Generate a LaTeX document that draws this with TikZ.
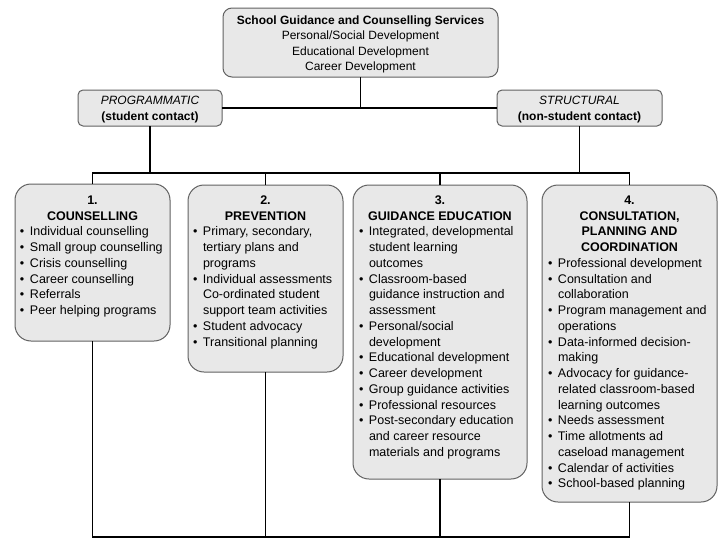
\documentclass[tikz,border=0pt]{standalone}
\usepackage{fontspec}
\setmainfont{Liberation Sans}
\newcommand\myitem{\par\hangindent=10pt\hangafter=1\noindent\makebox[10pt][l]{\textbullet}}
\newcommand\boxtext[3]{\begin{minipage}[t]{#1}\fontsize{#2}{15.75pt}\selectfont\parindent=0pt\parskip=0pt #3\end{minipage}}
\begin{document}
\begin{tikzpicture}[x=1pt,y=-1pt,
  gbox/.style={draw=black!62, line width=1pt, fill=black!9, inner sep=0pt, outer sep=0pt},
  colbox/.style={gbox, rounded corners=16pt, anchor=north west},
  txt/.style={anchor=base west, inner sep=0pt, outer sep=0pt},
  conn/.style={line width=1.8pt, black}]
\useasboundingbox (0,0) rectangle (728,546);
% top
\node[gbox, rounded corners=9pt, anchor=north west, minimum width=275pt, minimum height=69pt] (top) at (223,8) {};
\node[txt] (toptxt) at (223,24.3) {\begin{minipage}[t]{275pt}\fontsize{12pt}{15.5pt}\selectfont\centering
{\bfseries School Guidance and Counselling Services}\\
Personal/Social Development\\
Educational Development\\
Career Development\par\end{minipage}};
% programmatic / structural
\node[gbox, rounded corners=5pt, anchor=north west, minimum width=144pt, minimum height=36pt] (prog) at (78,90) {};
\node[txt] (progtxt) at (78,104.3) {\begin{minipage}[t]{144pt}\fontsize{12pt}{16pt}\selectfont\centering
{\itshape PROGRAMMATIC}\\
{\bfseries (student contact)}\par\end{minipage}};
\node[gbox, rounded corners=5pt, anchor=north west, minimum width=165pt, minimum height=36pt] (struct) at (497,90) {};
\node[txt] (structtxt) at (497,104.3) {\begin{minipage}[t]{165pt}\fontsize{12pt}{16pt}\selectfont\centering
{\itshape STRUCTURAL}\\
{\bfseries (non-student contact)}\par\end{minipage}};
% columns
\node[colbox, minimum width=155pt, minimum height=157pt] (c1) at (15,184) {};
\node[colbox, minimum width=155pt, minimum height=187pt] (c2) at (188,185) {};
\node[colbox, minimum width=174pt, minimum height=294pt] (c3) at (353,185) {};
\node[colbox, minimum width=175pt, minimum height=317pt] (c4) at (542,185) {};
\node[txt] (c1txt) at (15,204.3) {\boxtext{155pt}{12.5pt}{%
{\centering\bfseries 1.\\ COUNSELLING\par}
\raggedright\leftskip=5pt
\myitem Individual counselling
\myitem Small group counselling
\myitem Crisis counselling
\myitem Career counselling
\myitem Referrals
\myitem Peer helping programs\par}};
\node[txt] (c2txt) at (188,204.3) {\boxtext{155pt}{12.5pt}{%
{\centering\bfseries 2.\\ PREVENTION\par}
\raggedright\leftskip=5pt
\myitem Primary, secondary,\newline tertiary plans and\newline programs
\myitem Individual assessments\newline Co-ordinated student\newline support team activities
\myitem Student advocacy
\myitem Transitional planning\par}};
\node[txt] (c3txt) at (353,204.3) {\boxtext{174pt}{12.5pt}{%
{\centering\bfseries 3.\\ GUIDANCE EDUCATION\par}
\raggedright\leftskip=6pt
\myitem Integrated, developmental\newline student learning\newline outcomes
\myitem Classroom-based\newline guidance instruction and\newline assessment
\myitem Personal/social\newline development
\myitem Educational development
\myitem Career development
\myitem Group guidance activities
\myitem Professional resources
\myitem Post-secondary education\newline and career resource\newline materials and programs\par}};
\node[txt] (c4txt) at (542,204.3) {\boxtext{175pt}{12.5pt}{%
{\centering\bfseries 4.\\ CONSULTATION,\\ PLANNING AND\\ COORDINATION\par}
\raggedright\leftskip=6pt
\myitem Professional development
\myitem Consultation and\newline collaboration
\myitem Program management and\newline operations
\myitem Data-informed decision-\newline making
\myitem Advocacy for guidance-\newline related classroom-based\newline learning outcomes
\myitem Needs assessment
\myitem Time allotments ad\newline caseload management
\myitem Calendar of activities
\myitem School-based planning\par}};
% connectors
\coordinate (tj) at (360.5,108);
\coordinate (mid) at (0,173);
\coordinate (bot) at (0,537);
\draw[conn] (top.south) -- (tj);
\draw[conn] (prog.east) -- (struct.west);
\draw[conn] (prog.south) -- (prog.south |- mid);
\draw[conn] (struct.south) -- (struct.south |- mid);
\draw[conn] (c1.north) -- (c1.north |- mid) -- (c4.north |- mid) -- (c4.north);
\draw[conn] (c2.north) -- (c2.north |- mid);
\draw[conn] (c3.north) -- (c3.north |- mid);
\draw[conn] (c1.south) -- (c1.south |- bot) -- (c4.south |- bot) -- (c4.south);
\draw[conn] (c2.south) -- (c2.south |- bot);
\draw[conn] (c3.south) -- (c3.south |- bot);
\end{tikzpicture}
\end{document}
